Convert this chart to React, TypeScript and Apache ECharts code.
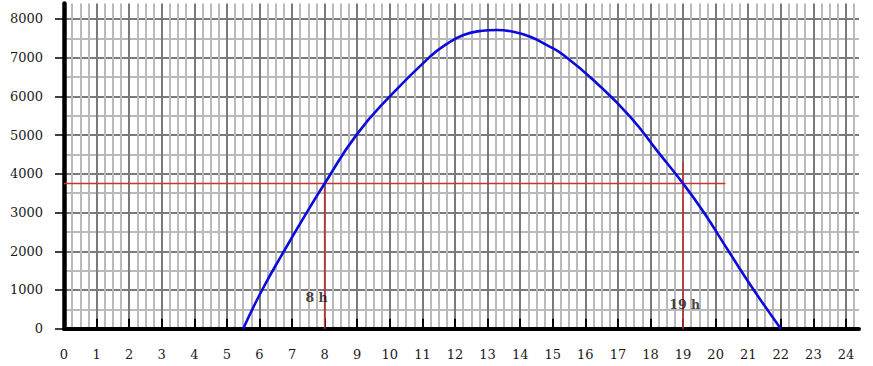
import React, { useEffect, useRef } from 'react';
import * as echarts from 'echarts';

// Curve (hour, value)
const curveHours = [5.5, 6.08, 6.75, 7.45, 8.0, 8.97, 10.0, 11.23, 11.74, 12.26, 12.77, 13.28, 13.79, 14.31, 14.82, 15.33, 16.36, 17.38, 18.2, 19.0, 19.64, 20.4, 21.17, 22.0];
const curveValues = [0, 1000, 2000, 3000, 3750, 5000, 6000, 7025, 7350, 7586, 7690, 7715, 7672, 7542, 7325, 7068, 6335, 5471, 4600, 3750, 3000, 2000, 1000, 0];

// Red guides
const guideLevel = 3750;
const guideEndHour = 20.3;
const markHours = [8, 19];
const markTops = [3750, 4300];
const markLabels = ['8 h', '19 h'];
const labelHours = [7.75, 19.05];
const labelValues = [800, 620];

// Axes
const xMax = 24.4;
const yMax = 8400;
const xLabelMax = 24;
const yLabelMax = 8000;
const xTickStep = 1;
const yTickStep = 1000;
const xGridStep = 0.25;
const yGridStep = 500;

const DARK = '#7a7a7a';
const LIGHT = '#bababa';
const RED = '#c43538';
const SERIF = 'DejaVu Serif';

// plot frame (pixels)
const L = 64, R = 14, T = 3.5, B = 37.3, W = 873, H = 366;

export default function App() {
  const ref = useRef<HTMLDivElement>(null);
  useEffect(() => {
    if (!ref.current) return;
    const chart = echarts.init(ref.current, null, { renderer: 'svg' });
    const plotW = W - L - R;
    const plotH = H - T - B;
    const right2 = W - L - plotW * (xLabelMax / xMax);
    const top2 = T + plotH * (1 - yLabelMax / yMax);
    const labelFont = { fontFamily: SERIF, fontSize: 13, color: '#1a1a1a' };
    const off = { axisLine: { show: false }, axisTick: { show: false }, axisLabel: { show: false }, splitLine: { show: false } };
    const option: any = {
      animation: false,
      backgroundColor: '#fff',
      textStyle: { fontFamily: SERIF },
      grid: [
        { left: L, right: R, top: T, bottom: B, containLabel: false },
        { left: L, right: right2, top: top2, bottom: B, containLabel: false },
      ],
      xAxis: [
        {
          type: 'value', gridIndex: 0, min: 0, max: xMax, interval: xGridStep, position: 'top',
          ...off,
          splitLine: { show: true, showMaxLine: false, lineStyle: { color: [DARK, LIGHT, LIGHT, LIGHT], width: 2 } },
        },
        {
          type: 'value', gridIndex: 0, min: 0, max: xMax, interval: xTickStep, position: 'bottom',
          ...off,
          axisLine: { show: true, onZero: false, lineStyle: { color: '#000', width: 4 } },
        },
        {
          type: 'value', gridIndex: 1, min: 0, max: xLabelMax, interval: xTickStep, position: 'bottom',
          ...off,
          axisTick: { show: true, inside: true, length: 10, lineStyle: { color: '#000', width: 2 } },
          axisLabel: { show: true, ...labelFont, margin: 19, formatter: (v: number) => String(v) },
        },
      ],
      yAxis: [
        {
          type: 'value', gridIndex: 0, min: 0, max: yMax, interval: yGridStep, position: 'right',
          ...off,
          splitLine: { show: true, showMaxLine: false, lineStyle: { color: [DARK, LIGHT], width: 2 } },
        },
        {
          type: 'value', gridIndex: 0, min: 0, max: yMax, interval: yTickStep, position: 'left',
          ...off,
          axisLine: { show: true, onZero: false, lineStyle: { color: '#000', width: 4.5 } },
        },
        {
          type: 'value', gridIndex: 1, min: 0, max: yLabelMax, interval: yTickStep, position: 'left',
          ...off,
          axisTick: { show: true, inside: false, length: 9, lineStyle: { color: '#000', width: 1.5 } },
          axisLabel: { show: true, ...labelFont, margin: 21, formatter: (v: number) => String(v) },
        },
      ],
      series: [
        {
          type: 'line', xAxisIndex: 1, yAxisIndex: 1,
          data: [[0, guideLevel], [guideEndHour, guideLevel]],
          showSymbol: false, silent: true, z: 3,
          lineStyle: { color: RED, width: 1.4 },
        },
        ...markHours.map((h, i) => ({
          type: 'line', xAxisIndex: 1, yAxisIndex: 1,
          data: [[h, 0], [h, markTops[i]]],
          showSymbol: false, silent: true, z: 3,
          lineStyle: { color: RED, width: 1.6 },
        })),
        {
          type: 'line', xAxisIndex: 1, yAxisIndex: 1,
          data: curveHours.map((h, i) => [h, curveValues[i]]),
          smooth: 0.5,
          showSymbol: false, silent: true, z: 5,
          lineStyle: { color: '#0b0bdc', width: 2.6 },
        },
        {
          type: 'scatter', xAxisIndex: 1, yAxisIndex: 1,
          symbolSize: 0, silent: true, z: 6,
          data: labelHours.map((h, i) => ({ value: [h, labelValues[i]], name: markLabels[i] })),
          label: {
            show: true, position: 'inside', formatter: (p: any) => p.name,
            fontFamily: SERIF, fontWeight: 'bold', fontSize: 12.5, color: '#111',
          },
        },
      ],
    };
    chart.setOption(option);
    return () => chart.dispose();
  }, []);
  return (
    <div
      ref={ref}
      style={{ position: 'fixed', left: 0, top: 0, width: W, height: H, background: '#fff' }}
    />
  );
}
